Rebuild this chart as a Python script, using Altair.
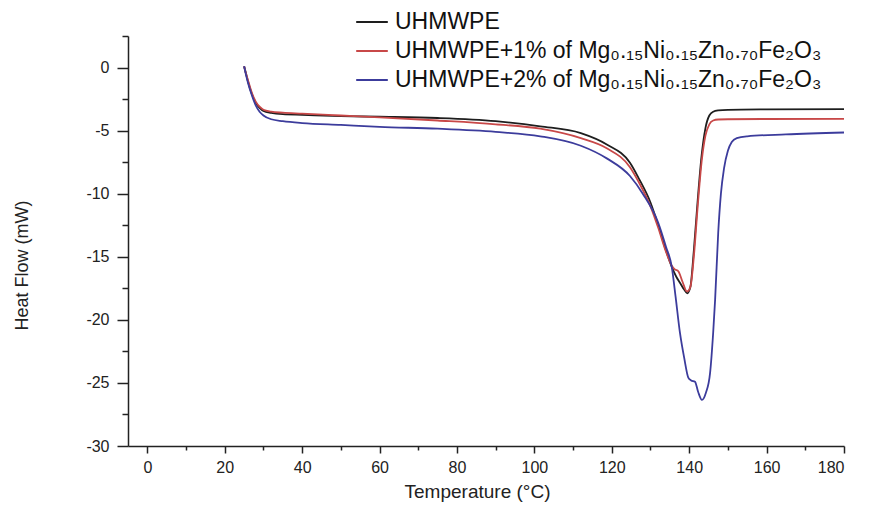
import altair as alt
import pandas as pd

series_names = [
    "UHMWPE",
    "UHMWPE+1% of Mg₀.₁₅Ni₀.₁₅Zn₀.₇₀Fe₂O₃",
    "UHMWPE+2% of Mg₀.₁₅Ni₀.₁₅Zn₀.₇₀Fe₂O₃",
]
series_colors = ["#1e1e1e", "#c84848", "#3c3c9c"]

t_black = [25, 25.5, 26, 27, 28, 29, 30, 32, 35, 40, 50, 60, 75, 90, 101.5, 112, 118.7, 124.7,
           127, 130, 132, 134, 135.5, 136.7, 137.7, 138.7, 139.5, 140.3, 141.2, 142.2, 143.2,
           144.2, 145.2, 146.2, 147.5, 150, 160, 180]
h_black = [0.1, -0.5, -1.1, -2.1, -2.8, -3.2, -3.45, -3.6, -3.7, -3.75, -3.85, -3.9, -4.0, -4.25,
           -4.66, -5.2, -6.1, -7.55, -8.8, -10.7, -12.5, -14.5, -15.8, -16.6, -17.1, -17.6, -17.9,
           -17.4, -14.5, -10.5, -7.0, -4.8, -3.8, -3.5, -3.4, -3.35, -3.32, -3.3]

t_red = [25, 25.5, 26, 27, 28, 29, 30, 32, 35, 40, 50, 60, 75, 90, 101.5, 112, 118.7, 124.7,
         127, 130, 132, 134, 135.5, 136.3, 137.2, 138.3, 139.4, 140.3, 141.2, 142.2, 143.2,
         144.2, 145.2, 146.2, 147.5, 150, 160, 180]
h_red = [0.1, -0.5, -1.0, -2.0, -2.7, -3.1, -3.35, -3.5, -3.58, -3.65, -3.8, -3.95, -4.2, -4.5,
         -4.85, -5.6, -6.4, -7.9, -9.1, -11.0, -12.7, -14.6, -15.7, -16.0, -16.15, -17.0, -17.75,
         -17.4, -15.0, -11.0, -7.5, -5.4, -4.5, -4.2, -4.12, -4.1, -4.08, -4.07]

t_blue = [25, 25.5, 26, 27, 28, 29, 30, 32, 35, 40, 50, 60, 75, 90, 101.5, 112, 118.7, 124.7,
          128, 132, 134, 135.5, 136.5, 137.6, 138.7, 139.8, 140.5, 141.5, 142.3, 143.3, 144.3,
          145.4, 146.2, 146.7, 147.5, 148.2, 149, 150, 151, 152.3, 155, 165, 180]
h_blue = [0.1, -0.6, -1.2, -2.2, -3.0, -3.5, -3.8, -4.1, -4.25, -4.4, -4.55, -4.7, -4.85, -5.1,
          -5.45, -6.2, -7.2, -8.6, -10.0, -12.3, -14.2, -15.8, -18.2, -21.0, -23.0, -24.6, -24.8,
          -24.9, -25.7, -26.35, -25.8, -24.2, -21.0, -18.4, -13.1, -10.0, -8.0, -6.6, -5.9, -5.6,
          -5.45, -5.3, -5.15]

x_major = [0, 20, 40, 60, 80, 100, 120, 140, 160, 180]
x_minor = [10, 30, 50, 70, 90, 110, 130, 150, 170]
y_major = [-30, -25, -20, -15, -10, -5, 0]
y_minor = [-27.5, -22.5, -17.5, -12.5, -7.5, -2.5, 2.5]

rows = []
for name, ts, hs in zip(series_names, [t_black, t_red, t_blue], [h_black, h_red, h_blue]):
    for i, (t, h) in enumerate(zip(ts, hs)):
        rows.append({"series": name, "idx": i, "T": t, "H": h})
df = pd.DataFrame(rows)

FONT = "Liberation Sans"

x_scale = alt.Scale(domain=[-5, 180], nice=False, zero=False)
y_scale = alt.Scale(domain=[-30, 2.5], nice=False, zero=False)

lines = alt.Chart(df).mark_line(strokeWidth=1.8, interpolate="monotone").encode(
    x=alt.X("T:Q", scale=x_scale, axis=alt.Axis(
        values=x_major, orient="bottom", title="Temperature (°C)", grid=False,
        tickSize=7, tickWidth=1.5, tickColor="#222", domainColor="#222", domainWidth=1.5,
        labelFont=FONT, labelFontSize=16, labelColor="#222", labelPadding=6,
        labelExpr="'' + datum.value",
        titleFont=FONT, titleFontSize=19, titleFontWeight="normal", titleColor="#222",
        titleX=349, titleAlign="center", titlePadding=7)),
    y=alt.Y("H:Q", scale=y_scale, axis=alt.Axis(
        values=y_major, orient="left", title="Heat Flow (mW)", grid=False,
        tickSize=11, tickWidth=1.5, tickColor="#222", domainColor="#222", domainWidth=1.5,
        labelFont=FONT, labelFontSize=16, labelColor="#222", labelPadding=8,
        labelExpr="'' + datum.value",
        titleFont=FONT, titleFontSize=18, titleFontWeight="normal", titleColor="#222",
        titleX=-106, titleY=229, titleAngle=270, titleAlign="center", titleBaseline="middle")),
    color=alt.Color("series:N", scale=alt.Scale(domain=series_names, range=series_colors),
                    legend=alt.Legend(
                        title=None, orient="none", legendX=227, legendY=-31,
                        symbolType="stroke", symbolSize=1000, symbolStrokeWidth=2,
                        labelFont=FONT, labelFontSize=23, labelColor="#111", labelLimit=2000,
                        labelOffset=6, rowPadding=0)),
    order="idx:Q",
)

minor = alt.Chart(df).mark_point(opacity=0).encode(
    x=alt.X("T:Q", scale=x_scale, axis=alt.Axis(
        values=x_minor, orient="bottom", title=None, labels=False, domain=False, grid=False,
        tickSize=4, tickWidth=1.5, tickColor="#222")),
    y=alt.Y("H:Q", scale=y_scale, axis=alt.Axis(
        values=y_minor, orient="left", title=None, labels=False, domain=False, grid=False,
        tickSize=6, tickWidth=1.5, tickColor="#222")),
)

chart = alt.layer(lines, minor).resolve_axis(x="independent", y="independent").properties(
    width=716, height=410,
    padding={"left": 120, "top": 28, "right": 34, "bottom": 58},
    autosize=alt.AutoSizeParams(type="none"),
    background="white",
).configure_view(stroke=None)

chart.save("out.html", embed_options={"renderer": "svg", "actions": False})
